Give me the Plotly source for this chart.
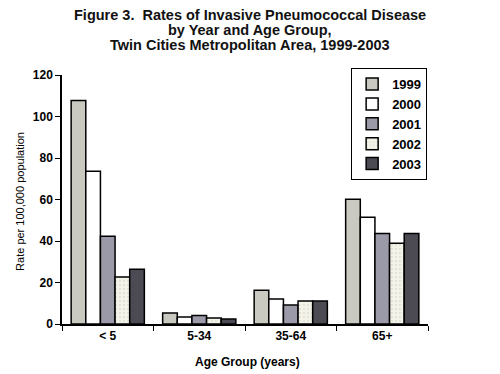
import plotly.graph_objects as go

categories = ["< 5", "5-34", "35-64", "65+"]
years = ["1999", "2000", "2001", "2002", "2003"]
rates_1999 = [107.7, 5.3, 16.3, 60.1]
rates_2000 = [73.6, 3.4, 12.0, 51.4]
rates_2001 = [42.3, 4.1, 9.1, 43.6]
rates_2002 = [22.6, 2.9, 11.1, 38.9]
rates_2003 = [26.4, 2.4, 11.1, 43.6]
y_ticks = [0, 20, 40, 60, 80, 100, 120]
title_lines = [
    "Figure 3.  Rates of Invasive Pneumococcal Disease",
    "by Year and Age Group,",
    "Twin Cities Metropolitan Area, 1999-2003",
]

series = [rates_1999, rates_2000, rates_2001, rates_2002, rates_2003]
colors = ["#c9c9c2", "#ffffff", "#9b9aa8", "#f3f3ea", "#4c4b53"]
patterns = ["", "", "", ".", ""]

font = "Liberation Sans, Arial, sans-serif"
fig = go.Figure()
for yr, vals, c, p in zip(years, series, colors, patterns):
    marker = dict(color=c, line=dict(color="black", width=1.5))
    if p:
        marker["pattern"] = dict(shape=p, fgcolor="#c8c8b8", size=4, solidity=0.2)
    fig.add_trace(go.Bar(name=yr, x=categories, y=vals, marker=marker))

annotations = []
for i, line in enumerate(title_lines):
    annotations.append(dict(
        text="<b>" + line + "</b>", xref="paper", yref="paper",
        x=0.514, y=[1.241, 1.181, 1.120][i], xanchor="center", yanchor="middle",
        showarrow=False, font=dict(size=14.5, family=font, color="#111"),
    ))
annotations.append(dict(
    text="Rate per 100,000 population", xref="paper", yref="paper",
    x=-0.115, y=0.494, xanchor="center", yanchor="middle", textangle=-90,
    showarrow=False, font=dict(size=11, family=font, color="black"),
))
annotations.append(dict(
    text="<b>Age Group (years)</b>", xref="paper", yref="paper",
    x=0.508, y=-0.153, xanchor="center", yanchor="middle",
    showarrow=False, font=dict(size=12, family=font, color="black"),
))

fig.update_layout(
    width=500, height=374,
    barmode="group", bargap=0.2, bargroupgap=0,
    paper_bgcolor="white", plot_bgcolor="white",
    margin=dict(l=54, r=80, t=67, b=58),
    font=dict(family=font, color="black"),
    annotations=annotations,
    legend=dict(
        x=0.79, y=1.028, xanchor="left", yanchor="top",
        bordercolor="black", borderwidth=1, bgcolor="white",
        font=dict(size=13, family=font, weight="bold"),
        itemwidth=30, tracegroupgap=0,
    ),
    showlegend=True,
)
fig.update_yaxes(
    range=[0, 120], tickvals=y_ticks, showgrid=False, zeroline=False,
    showline=True, linecolor="black", linewidth=1.5,
    ticks="outside", ticklen=5, tickcolor="black",
    tickfont=dict(size=12, family=font, weight="bold"),
)
fig.update_xaxes(
    showline=True, linecolor="black", linewidth=1.5,
    ticks="outside", tickson="boundaries", ticklen=5, tickcolor="black",
    tickfont=dict(size=12, family=font, weight="bold"),
)
fig.write_html("out.html")
